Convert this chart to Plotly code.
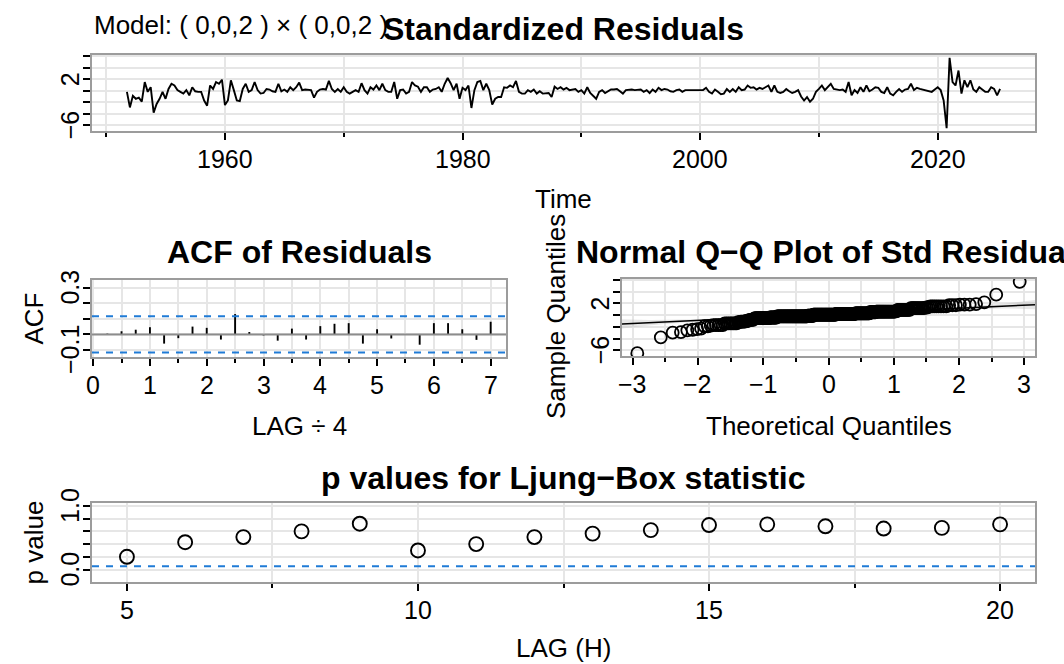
import numpy as np
import plotly.graph_objects as go
from statistics import NormalDist

W, H = 1064, 664
def fx(p): return p / W
def fy(p): return 1 - p / H

# ---------------- data ----------------
start_year = 1951.75  # quarterly series
resid = [
    -0.2, -2.9, -0.9, -1.4, -1.2, -1.9, 1.5, -0.2, 0.6, -3.8,
    -2.3, -1.4, -0.2, -1.4, 0.3, 1.2, 0.9, 0.1, -0.2, -0.5,
    0.1, -0.8, 0.6, -0.1, -0.2, -0.2, -1.7, -2.6, 0.9, 0.3,
    1.5, 1.2, 1.9, -2.5, -1.7, 1.8, 0.1, -1.7, -1.8, 0.3,
    1.2, -0.2, 0.1, 1.5, 0.1, -0.5, -0.4, 0.3, 0.2, -0.1,
    -0.2, 1.2, -0.1, 0.2, -0.2, 0.6, 0.1, 0.6, 1.4, 0.1,
    0.2, 0.2, 0.1, -1.2, -0.2, 0.2, 0.3, 0.2, 1.7, 0.3,
    -0.2, 0.3, -0.2, 0.6, -0.2, -0.5, -0.2, 0.1, -0.2, 1.3,
    0.1, -0.5, 0.6, 0.2, 0.9, 0.1, 1.2, 0.1, -0.2, -0.2,
    1.5, -1.4, 0.1, 0.2, -0.5, -0.2, 1.5, 0.9, 0.7, -0.2,
    0.6, 0.6, -0.2, 0.2, 0.3, 0.6, -0.2, 1.2, 2.2, 1.3,
    0.1, 1.2, -1.4, 0.5, 0.1, 0.9, -3.0, 0.1, 1.5, 1.7,
    0.1, 1.2, 0.1, -2.4, -1.4, -1.1, -1.1, 0.6, 0.5, 0.9,
    0.6, 1.7, -0.2, -0.5, -0.5, 0.1, -0.2, 0.2, -0.5, -0.1,
    -0.5, -0.5, -0.4, -1.1, 0.7, 0.3, 0.6, 0.2, 0.5, 0.1,
    0.2, 0.3, -0.2, 0.1, -0.5, 0.6, -0.4, -1.0, -1.4, -0.2,
    0.1, -0.4, -0.1, 0.2, 0.2, 0.3, -0.1, -0.5, 0.1, 0.2,
    0.2, 0.1, 0.1, 0.2, -0.2, 0.1, -0.4, 0.2, -0.2, 0.5,
    0.1, 0.3, 0.2, -0.1, -0.2, 0.1, 0.2, -0.2, 0.1, 0.1,
    0.2, 0.1, 0.1, 0.2, 0.1, 0.5, -0.2, -0.5, 0.2, -0.2,
    -0.6, -0.5, 0.3, -0.2, 0.3, -0.2, 0.6, 0.1, 0.2, 0.9,
    0.5, 0.6, 0.2, 0.5, 0.3, 0.6, 0.9, -0.2, 0.9, -0.2,
    -0.4, -0.2, 0.3, -0.1, -0.4, -0.2, 0.1, -1.0, -1.7, -1.1,
    -1.9, -1.4, -0.2, 0.3, 0.9, 0.1, 0.6, 1.2, 0.3, 0.2,
    0.1, 0.2, -0.2, 1.5, -0.8, 0.1, -0.4, 0.6, -0.2, 0.9,
    -0.1, 0.2, 0.6, 0.5, -0.2, -0.4, 0.6, -0.5, -0.8, -0.2,
    0.3, -0.2, 0.2, 0.3, 1.2, 0.1, 0.5, 0.3, 0.2, 0.1,
    -0.1, -0.2, 0.2, 0.6, 0.1, -1.7, -6.5, 5.7, 1.5, 0.9,
    3.5, -0.5, 1.8, 0.6, 1.8, 0.2, -0.2, 0.6, 0.2, -0.2,
    -0.2, 0.6, 0.3, -0.8, 0.3,
]
n = len(resid)
time = [start_year + i / 4 for i in range(n)]

acf_lag = [k / 4 for k in range(1, 29)]
acf_val = [0.005, 0.02, 0.03, 0.046, -0.059, -0.024, 0.05, 0.042,
           -0.033, 0.13, 0.015, -0.007, -0.04, 0.037, -0.033, 0.053,
           0.068, 0.072, -0.059, 0.033, -0.026, -0.004, -0.066, 0.072,
           0.072, 0.033, -0.035, 0.081]

lb_lag = list(range(5, 21))
lb_p = [0.20, 0.43, 0.51, 0.60, 0.72, 0.30, 0.40, 0.51,
        0.565, 0.62, 0.70, 0.71, 0.68, 0.645, 0.655, 0.71]

# tick labels
year_ticks = [1960, 1980, 2000, 2020]
year_minor = [1950, 1970, 1990, 2010]
acf_xticks = [0, 1, 2, 3, 4, 5, 6, 7]
acf_xminor = [0.5, 1.5, 2.5, 3.5, 4.5, 5.5, 6.5]
qq_xticks = [-3, -2, -1, 0, 1, 2, 3]
qq_xminor = [-2.5, -1.5, -0.5, 0.5, 1.5, 2.5]
lb_xticks = [5, 10, 15, 20]
lb_xminor = [7.5, 12.5, 17.5]
resid_yticks = [-6, -4, -2, 0, 2, 4, 6]
resid_ylabels = {2: '2', -6: '−6'}
acf_yticks = [-0.1, 0.0, 0.1, 0.2, 0.3]
acf_ylabels = {0.3: '0.3', -0.1: '−0.1'}
lb_yticks = [0.0, 0.2, 0.4, 0.6, 0.8, 1.0]
lb_ylabels = {1.0: '1.0', 0.0: '0.0'}

# ---------------- helpers ----------------
def rpad(lo, hi):
    d = hi - lo
    return [lo - 0.04 * d, hi + 0.04 * d]

def fmt(v):
    return str(v).replace('-', '−')

BLUE = '#1f7bd6'
GRID = '#e6e6e6'
BOX = '#9c9c9c'
FONT = 'Liberation Sans, Arial, Helvetica, sans-serif'
TICKSIZE = 25

def xaxis_cfg(dom, rng, vals, minor_vals, anchor):
    return dict(domain=dom, range=rng, anchor=anchor, tickmode='array',
                tickvals=vals, showticklabels=False, ticks='outside', ticklen=7,
                tickwidth=1.7, tickcolor='black', showgrid=True,
                gridcolor=GRID, gridwidth=2, zeroline=False, showline=True,
                linecolor=BOX, linewidth=2, mirror=True, automargin=False,
                minor=dict(tickmode='array', tickvals=minor_vals,
                           ticks='outside', ticklen=4, tickwidth=1.5,
                           tickcolor='black', showgrid=True, gridcolor=GRID,
                           gridwidth=2))

def yaxis_cfg(dom, rng, vals, anchor):
    return dict(domain=dom, range=rng, anchor=anchor, tickmode='array',
                tickvals=vals, showticklabels=False, ticks='outside', ticklen=7,
                tickwidth=1.7, tickcolor='black', showgrid=True,
                gridcolor=GRID, gridwidth=2, zeroline=False, showline=True,
                linecolor=BOX, linewidth=2, mirror=True, automargin=False)

fig = go.Figure()

# ---------------- panel 1: standardized residuals ----------------
rmin, rmax = min(resid), max(resid)
fig.add_trace(go.Scatter(x=time, y=resid, mode='lines',
                         line=dict(color='black', width=1.9),
                         xaxis='x', yaxis='y', hoverinfo='skip'))

# ---------------- panel 2: ACF ----------------
U = 2 / np.sqrt(n)
acf_ylim = [min(min(acf_val), -U) - 0.01, min(max(acf_val) + 0.2, 1)]
bx, by = [], []
for l, v in zip(acf_lag, acf_val):
    bx += [l, l, None]
    by += [0, v, None]
fig.add_trace(go.Scatter(x=bx, y=by, mode='lines',
                         line=dict(color='black', width=1.9),
                         xaxis='x2', yaxis='y2', hoverinfo='skip'))

# ---------------- panel 3: QQ ----------------
nd = NormalDist()
srt = sorted(resid)
theo = [nd.inv_cdf((i + 0.5) / n) for i in range(n)]
q25, q75 = np.quantile(resid, [0.25, 0.75])
z25, z75 = nd.inv_cdf(0.25), nd.inv_cdf(0.75)
slope = (q75 - q25) / (z75 - z25)
icpt = q25 - slope * z25
qx_rng = rpad(theo[0], theo[-1])
zg = np.linspace(qx_rng[0], qx_rng[1], 200)
pg = np.array([nd.cdf(z) for z in zg])
se = slope / np.array([nd.pdf(z) for z in zg]) * np.sqrt(pg * (1 - pg) / n)
up = icpt + slope * zg + 2.5 * se
lo = icpt + slope * zg - 2.5 * se
fig.add_trace(go.Scatter(x=np.concatenate([zg, zg[::-1]]),
                         y=np.concatenate([up, lo[::-1]]),
                         fill='toself', fillcolor='rgba(185,185,185,0.35)',
                         line=dict(width=0), mode='lines',
                         xaxis='x3', yaxis='y3', hoverinfo='skip'))
fig.add_trace(go.Scatter(x=theo, y=srt, mode='markers',
                         marker=dict(symbol='circle-open', size=12,
                                     color='black', line=dict(width=1.8)),
                         xaxis='x3', yaxis='y3', hoverinfo='skip'))
fig.add_trace(go.Scatter(x=[qx_rng[0], qx_rng[1]],
                         y=[icpt + slope * qx_rng[0], icpt + slope * qx_rng[1]],
                         mode='lines', line=dict(color='black', width=1.5),
                         xaxis='x3', yaxis='y3', hoverinfo='skip'))

# ---------------- panel 4: Ljung-Box ----------------
fig.add_trace(go.Scatter(x=lb_lag, y=lb_p, mode='markers',
                         marker=dict(symbol='circle-open', size=14,
                                     color='black', line=dict(width=1.9)),
                         xaxis='x4', yaxis='y4', hoverinfo='skip'))

# reference lines
shapes = [
    dict(type='line', xref='x2 domain', x0=0, x1=1, yref='y2', y0=0, y1=0,
         line=dict(color='#8c8c8c', width=2)),
    dict(type='line', xref='x2 domain', x0=0, x1=1, yref='y2', y0=U, y1=U,
         line=dict(color=BLUE, width=2, dash='7px,7px')),
    dict(type='line', xref='x2 domain', x0=0, x1=1, yref='y2', y0=-U, y1=-U,
         line=dict(color=BLUE, width=2, dash='7px,7px')),
    dict(type='line', xref='x4 domain', x0=0, x1=1, yref='y4', y0=0.05, y1=0.05,
         line=dict(color=BLUE, width=2, dash='7px,7px')),
]

# panel boxes in pixels (left, right, top, bottom)
P1 = (92, 1035, 55, 131)
P2 = (92, 506, 280, 357)
P3 = (622, 1035, 279, 356)
P4 = (92, 1035, 503, 582)

def dom(P):
    return [fx(P[0]), fx(P[1])], [fy(P[3]), fy(P[2])]

fig.update_layout(
    width=W, height=H, margin=dict(l=0, r=0, t=0, b=0),
    paper_bgcolor='white', plot_bgcolor='white', showlegend=False,
    font=dict(family=FONT, color='black'),
    shapes=shapes,
    xaxis=xaxis_cfg(dom(P1)[0], rpad(time[0], time[-1]), year_ticks, year_minor, 'y'),
    yaxis=yaxis_cfg(dom(P1)[1], rpad(rmin, rmax), resid_yticks, 'x'),
    xaxis2=xaxis_cfg(dom(P2)[0], rpad(acf_lag[0], acf_lag[-1]), acf_xticks, acf_xminor, 'y2'),
    yaxis2=yaxis_cfg(dom(P2)[1], rpad(*acf_ylim), acf_yticks, 'x2'),
    xaxis3=xaxis_cfg(dom(P3)[0], qx_rng, qq_xticks, qq_xminor, 'y3'),
    yaxis3=yaxis_cfg(dom(P3)[1], rpad(rmin, rmax), resid_yticks, 'x3'),
    xaxis4=xaxis_cfg(dom(P4)[0], rpad(5, 20), lb_xticks, lb_xminor, 'y4'),
    yaxis4=yaxis_cfg(dom(P4)[1], rpad(-0.15, 1.0), lb_yticks, 'x4'),
)

def ann(text, x, y, size=26, angle=0, xanchor='center', bold=False):
    fig.add_annotation(text=f'<b>{text}</b>' if bold else text,
                       x=fx(x), y=fy(y), xref='paper', yref='paper',
                       showarrow=False, textangle=angle, xanchor=xanchor,
                       yanchor='middle', font=dict(size=size, family=FONT, color='black'))

# tick labels placed on the data axes
def xlabels(axis, P, vals):
    for v in vals:
        fig.add_annotation(text=fmt(v), x=v, xref=axis, y=fy(P[3] + 28), yref='paper',
                           showarrow=False, xanchor='center', yanchor='middle',
                           font=dict(size=TICKSIZE, family=FONT, color='black'))

def ylabels(axis, P, labels):
    for v, t in labels.items():
        fig.add_annotation(text=t, y=v, yref=axis, x=fx(P[0] - 22), xref='paper',
                           showarrow=False, xanchor='center', yanchor='middle',
                           textangle=-90,
                           font=dict(size=TICKSIZE, family=FONT, color='black'))

xlabels('x', P1, year_ticks)
xlabels('x2', P2, acf_xticks)
xlabels('x3', P3, qq_xticks)
xlabels('x4', P4, lb_xticks)
ylabels('y', P1, resid_ylabels)
ylabels('y2', P2, acf_ylabels)
ylabels('y3', P3, resid_ylabels)
ylabels('y4', P4, lb_ylabels)

ann('Model: ( 0,0,2 ) × ( 0,0,2 )', 92, 25, size=26, xanchor='left')
ann('Standardized Residuals', 563.5, 29, size=32, bold=True)
ann('Time', 563.5, 199)
ann('ACF of Residuals', 299, 252, size=32, bold=True)
ann('ACF', 33, 318.5, angle=-90)
ann('LAG ÷ 4', 299, 426)
ann('Normal Q−Q Plot of Std Residuals', 834, 252, size=32, bold=True)
ann('Sample Quantiles', 556, 317, angle=-90)
ann('Theoretical Quantiles', 828.5, 426)
ann('p values for Ljung−Box statistic', 563.5, 478, size=32, bold=True)
ann('p value', 33, 542.5, angle=-90)
ann('LAG (H)', 563.5, 648)

fig.write_html('out.html')
